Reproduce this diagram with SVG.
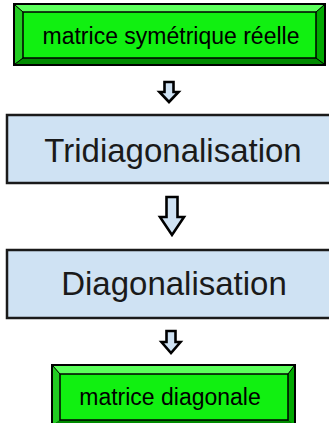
<svg xmlns="http://www.w3.org/2000/svg" width="329" height="423" viewBox="0 0 329 423">
  <style>
    .bev-out { stroke: #000; stroke-width: 2; }
    .bev-top { fill: #5cff5c; }
    .bev-left { fill: #22cc22; }
    .bev-right { fill: #00a800; }
    .bev-bot { fill: #008a00; }
    .bev-face { fill: #11f011; stroke: #000; stroke-width: 1.5; }
    .bev-line { stroke: #000; stroke-width: 1; fill: none; }
    .step { fill: #cfe2f3; stroke: #1a1a1a; stroke-width: 2.5; }
    .arrow { fill: #cfe2f3; stroke: #000; stroke-width: 2.6; stroke-linejoin: miter; }
    .lbl-sm { font-family: "Liberation Sans", Arial, sans-serif; font-size: 23px; fill: #000; text-anchor: middle; }
    .lbl-lg { font-family: "Liberation Sans", Arial, sans-serif; font-size: 33px; fill: #1a1a1a; text-anchor: middle; }
  </style>

  <!-- input: bevelled green box -->
  <g id="input">
    <rect x="14" y="4" width="311" height="61" fill="#000" class="bev-out"/>
    <polygon class="bev-top" points="15,5 324,5 316,12 23,12"/>
    <polygon class="bev-left" points="15,5 23,12 23,58 15,64"/>
    <polygon class="bev-right" points="324,5 324,64 316,58 316,12"/>
    <polygon class="bev-bot" points="15,64 23,58 316,58 324,64"/>
    <rect class="bev-face" x="23" y="12" width="293" height="46"/>
    <path class="bev-line" d="M15,5 L23,12 M324,5 L316,12 M15,64 L23,58 M324,64 L316,58"/>
    <text class="lbl-sm" x="171" y="44">matrice symétrique réelle</text>
  </g>

  <!-- step 1 -->
  <g id="tridiag">
    <rect class="step" x="7" y="115" width="330" height="68"/>
    <text class="lbl-lg" x="173" y="162">Tridiagonalisation</text>
  </g>

  <!-- step 2 -->
  <g id="diag">
    <rect class="step" x="7" y="250" width="330" height="68"/>
    <text class="lbl-lg" x="174" y="295">Diagonalisation</text>
  </g>

  <!-- output: bevelled green box -->
  <g id="output">
    <rect x="52" y="365" width="243" height="61" fill="#000" class="bev-out"/>
    <polygon class="bev-top" points="53,366 294,366 288,374 60,374"/>
    <polygon class="bev-left" points="53,366 60,374 60,420 53,425"/>
    <polygon class="bev-right" points="294,366 294,425 288,420 288,374"/>
    <polygon class="bev-bot" points="53,425 60,420 288,420 294,425"/>
    <rect class="bev-face" x="60" y="374" width="228" height="46"/>
    <path class="bev-line" d="M53,366 L60,374 M294,366 L288,374"/>
    <text class="lbl-sm" x="170" y="405">matrice diagonale</text>
  </g>

  <!-- block arrows between stages -->
  <g id="connectors">
    <polygon class="arrow" points="164.5,82 173.5,82 173.5,92 178.5,92 169,102 159.5,92 164.5,92"/>
    <polygon class="arrow" points="166.5,197 177.5,197 177.5,217 184,217 172,235 160,217 166.5,217"/>
    <polygon class="arrow" points="166.5,331 175.5,331 175.5,342 180.5,342 171,353 161.5,342 166.5,342"/>
  </g>
</svg>
